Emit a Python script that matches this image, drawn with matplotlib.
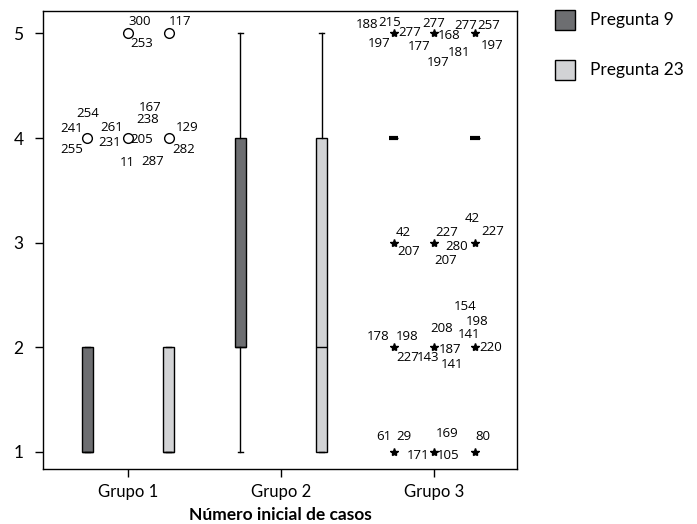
import matplotlib
matplotlib.use("Agg")
import matplotlib.pyplot as plt
from matplotlib.patches import Rectangle

# --- data -------------------------------------------------------------
groups = ["Grupo 1", "Grupo 2", "Grupo 3"]
series = ["Pregunta 9", "Pregunta 23"]
series_colors = ["#6d6e71", "#d2d3d5"]

# box statistics per group, one entry per series (Pregunta 9, Pregunta 23)
whislo = [[1, 1], [1, 1], [4, 4]]
q1 = [[1, 1], [2, 1], [4, 4]]
med = [[1, 1], [2, 2], [4, 4]]
q3 = [[2, 2], [4, 4], [4, 4]]
whishi = [[2, 2], [5, 5], [4, 4]]

# outliers (circles) -- slot: -1 Pregunta 9, 0 middle, +1 Pregunta 23
circle_group = [0, 0, 0, 0, 0]
circle_slot = [0, 1, -1, 0, 1]
circle_value = [5, 5, 4, 4, 4]
circle_cases = [
    ["300", "253"],
    ["117"],
    ["254", "241", "255"],
    ["261", "231", "205", "167", "238", "11", "287"],
    ["129", "282"],
]

# extremes (stars)
star_group = [2, 2, 2, 2, 2, 2, 2, 2, 2, 2, 2, 2]
star_slot = [-1, 0, 1, -1, 0, 1, -1, 0, 1, -1, 0, 1]
star_value = [5, 5, 5, 3, 3, 3, 2, 2, 2, 1, 1, 1]
star_cases = [
    ["188", "215", "197", "277"],
    ["277", "168", "177", "197", "181"],
    ["277", "257", "197"],
    ["42", "207"],
    ["227", "280", "207"],
    ["42", "227"],
    ["178", "198", "227", "143"],
    ["187", "141", "208", "141", "198", "154"],
    ["220"],
    ["61", "29"],
    ["169", "171", "105"],
    ["80"],
]

# --- layout -----------------------------------------------------------
slot_offset = {-1: -0.265, 0: 0.0, 1: 0.265}

# label offsets in pixels (dx, dy) relative to each mark
circle_label_offsets = [
    [(12, 12), (14, -10)],
    [(12, 12)],
    [(0, 25), (-16, 10), (-16, -11)],
    [(-16, 11), (-18, -4), (14, -1), (22, 31), (20, 19), (-1, -24), (25, -23)],
    [(19, 11), (15, -11)],
]
star_label_offsets = [
    [(-26, 9), (-4, 11), (-14, -10), (16, 1)],
    [(0, 10), (15, -2), (-15, -13), (4, -29), (25, -19)],
    [(-9, 8), (14, 8), (18, -12)],
    [(10, 10), (15, -9)],
    [(13, 10), (23, -4), (12, -18)],
    [(-2, 24), (18, 11)],
    [(-15, 11), (14, 11), (14, -10), (35, -10)],
    [(16, -2), (18, -17), (8, 19), (35, 13), (43, 26), (31, 41)],
    [(16, 0)],
    [(-10, 15), (10, 15)],
    [(13, 18), (-16, -4), (14, -4)],
    [(8, 15)],
]

label_font = "Lato"
num_font = "Open Sans"

fig = plt.figure(figsize=(6.97, 5.24), dpi=100)
ax = fig.add_axes([43 / 697, 1 - 469 / 524, 474 / 697, 458 / 524])

stats = []
positions = []
colors = []
widths = []
for g in range(len(groups)):
    for s in range(len(series)):
        stats.append({
            "whislo": whislo[g][s], "q1": q1[g][s], "med": med[g][s],
            "q3": q3[g][s], "whishi": whishi[g][s], "fliers": [],
        })
        positions.append(g + (slot_offset[-1] if s == 0 else slot_offset[1]))
        colors.append(series_colors[s])
        widths.append(0.072 if g < 2 else 0.065)

bp = ax.bxp(
    stats, positions=positions, widths=widths, patch_artist=True,
    showfliers=False, manage_ticks=False,
    boxprops=dict(edgecolor="black", linewidth=1),
    whiskerprops=dict(color="black", linewidth=1),
    capprops=dict(color="black", linewidth=1),
    medianprops=dict(color="black", linewidth=1),
)
for patch, c in zip(bp["boxes"], colors):
    patch.set_facecolor(c)

# degenerate boxes in Grupo 3 are drawn as a heavy dash
for i in range(len(stats)):
    if stats[i]["q1"] == stats[i]["q3"]:
        bp["medians"][i].set_linewidth(3)
        bp["medians"][i].set_solid_capstyle("butt")

for g, sl, v, cases, offs in zip(circle_group, circle_slot, circle_value,
                                 circle_cases, circle_label_offsets):
    x = g + slot_offset[sl]
    ax.plot(x, v, marker="o", ms=7, mfc="white", mec="black", mew=1,
            linestyle="none")
    for lab, (dx, dy) in zip(cases, offs):
        ax.annotate(lab, (x, v), xytext=(dx, dy), textcoords="offset pixels",
                    ha="center", va="center", fontsize=9.5, family=num_font)

for g, sl, v, cases, offs in zip(star_group, star_slot, star_value,
                                 star_cases, star_label_offsets):
    x = g + slot_offset[sl]
    ax.plot(x, v, marker="*", ms=6, color="black", linestyle="none")
    for lab, (dx, dy) in zip(cases, offs):
        ax.annotate(lab, (x, v), xytext=(dx, dy), textcoords="offset pixels",
                    ha="center", va="center", fontsize=9.5, family=num_font)

ax.set_xlim(-0.5556, 2.542)
ax.set_ylim(0.8375, 5.215)
ax.set_xticks(range(len(groups)))
ax.set_xticklabels(groups, family=label_font, fontsize=12)
ax.set_yticks([1, 2, 3, 4, 5])
ax.set_yticklabels(["1", "2", "3", "4", "5"], family=label_font, fontsize=12.5)
ax.tick_params(axis="y", length=6, width=1, pad=8)
ax.tick_params(axis="x", length=6, width=1, pad=5)
for sp in ax.spines.values():
    sp.set_linewidth(1)
ax.set_xlabel("Número inicial de casos", family=label_font, fontsize=12.5,
              fontweight="bold", labelpad=5)

# legend, drawn in figure pixels
for i, (name, c) in enumerate(zip(series, series_colors)):
    y_top = 10 + i * 50
    fig.add_artist(Rectangle((555 / 697, 1 - (y_top + 20) / 524), 20 / 697,
                             20 / 524, transform=fig.transFigure,
                             facecolor=c, edgecolor="black", linewidth=1))
    fig.text(590 / 697, 1 - (y_top + 10) / 524, name, family=label_font,
             fontsize=12.5, va="center", ha="left")

fig.savefig("out.png", dpi=100)
